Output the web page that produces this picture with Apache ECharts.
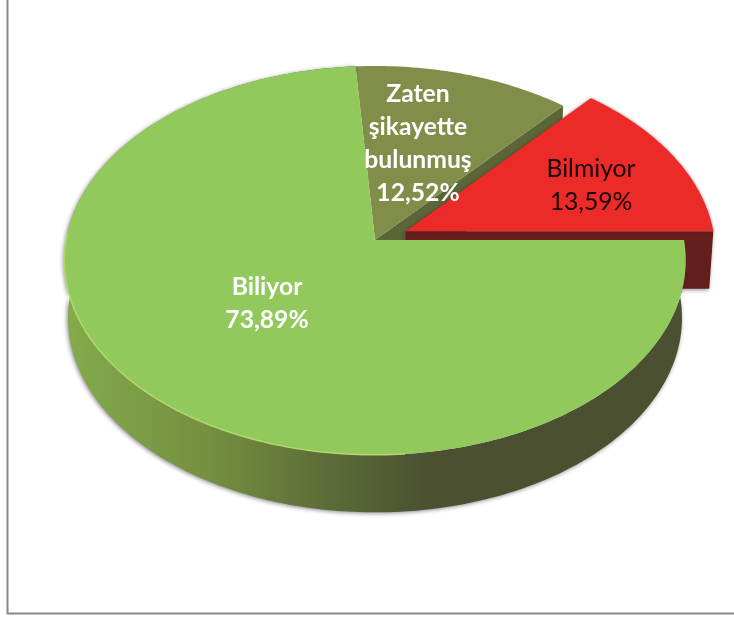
<!DOCTYPE html>
<html>
<head>
<meta charset="utf-8">
<title>Pie</title>
<style>
  html, body { margin: 0; padding: 0; background: #fff; }
  #chart { width: 734px; height: 618px; }
</style>
</head>
<body>
<div id="chart"></div>
<script src="https://cdn.jsdelivr.net/npm/echarts@6/dist/echarts.min.js"></script>
<script>
const categories = ['Biliyor', 'Zaten\nşikayette\nbulunmuş', 'Bilmiyor']
const shares = [73.89, 12.52, 13.59]
const shareLabels = ['73,89%', '12,52%', '13,59%']

// look of each slice, same order as categories
const topColors = ['#92c95c', '#808e4a', '#ec2a27']
const textColors = ['#ffffff', '#ffffff', '#1a0505']
const textWeights = ['bold', 'bold', 'normal']
const labelPos = [[267, 304], [418, 144], [591, 186]]
const explode = [0, 0, 0.11]
const paintOrder = [1, 2, 0]

// tilted disc: projective map from the unit circle, k gives the perspective
const apexX = 375
const apexY = 240
const radiusX = 309
const radiusY = 192.3
const k = -0.105
const depth = 57.5
const floorScale = 0.988
const firstAngle = 90 // clock degrees, 0 is 12 o'clock

const total = shares.reduce((a, b) => a + b, 0)
let running = firstAngle
const slices = shares.map((value) => {
  const start = running
  running += (value / total) * 360
  return { start, end: running }
})

function project(u, v, low) {
  const d = 1 + k * v
  const x = (radiusX * u) / d
  const y = (radiusY * v) / d
  return low
    ? [apexX + x * floorScale, apexY + y + depth]
    : [apexX + x, apexY + y]
}

function rimPoint(angle, slice, low) {
  const mid = (((slice.start + slice.end) / 2) * Math.PI) / 180
  const off = explode[slice.index] || 0
  const a = (angle * Math.PI) / 180
  return project(Math.sin(a) + Math.sin(mid) * off, -Math.cos(a) - Math.cos(mid) * off, low)
}

function centerPoint(slice, low) {
  const mid = (((slice.start + slice.end) / 2) * Math.PI) / 180
  const off = explode[slice.index] || 0
  return project(Math.sin(mid) * off, -Math.cos(mid) * off, low)
}

function rimPath(from, to, slice, low) {
  const pts = []
  const steps = Math.max(2, Math.ceil(Math.abs(to - from)))
  for (let i = 0; i <= steps; i++) {
    pts.push(rimPoint(from + ((to - from) * i) / steps, slice, low))
  }
  return pts
}

slices.forEach((s, i) => { s.index = i })

const edgeShadow = { shadowBlur: 4, shadowColor: 'rgba(40,40,50,0.55)', shadowOffsetX: -1, shadowOffsetY: 1 }

function sliceShapes(i) {
  const s = slices[i]
  const shapes = []
  const apex = centerPoint(s, false)
  const rim = rimPath(s.start, s.end, s, false)

  if (i === 0) {
    // outer wall of the big slice
    const wall = rim.concat(rimPath(s.end, s.start, s, true))
    shapes.push({
      type: 'polygon',
      shape: { points: wall },
      style: {
        fill: {
          type: 'linear', x: 64, y: 0, x2: 430, y2: 0, global: true,
          colorStops: [
            { offset: 0, color: '#84ab4c' },
            { offset: 0.4, color: '#748f40' },
            { offset: 0.72, color: '#5d6c37' },
            { offset: 1, color: '#4a5030' },
          ],
        },
        ...edgeShadow,
      },
    })
  }
  if (i === 1) {
    // cut face seen along the edge next to the red slice
    const a = rimPoint(s.end, s, false)
    const b = rimPoint(s.end, s, true)
    shapes.push({
      type: 'polygon',
      shape: { points: [apex, a, b, centerPoint(s, true)] },
      style: { fill: '#5a6637' },
    })
  }
  if (i === 2) {
    const a = rimPoint(s.end, s, false)
    const b = rimPoint(s.end, s, true)
    shapes.push({
      type: 'polygon',
      shape: { points: [apex, a, b, centerPoint(s, true)] },
      style: { fill: '#641e1c', ...edgeShadow },
    })
  }

  shapes.push({
    type: 'polygon',
    shape: { points: [apex].concat(rim) },
    style: i === 2
      ? { fill: topColors[i], shadowBlur: 3, shadowColor: 'rgba(90,20,20,0.6)' }
      : { fill: topColors[i] },
  })

  if (i === 0) {
    // light bevel along the front left of the rim
    shapes.push({
      type: 'polyline',
      shape: { points: rimPath(175, 272, s, false) },
      style: { fill: null, stroke: '#b7da6e', lineWidth: 1.5, opacity: 0.9 },
    })
  }
  return shapes
}

const chart = echarts.init(document.getElementById('chart'))
chart.setOption({
  animation: false,
  backgroundColor: '#ffffff',
  graphic: [
    {
      type: 'polyline',
      shape: { points: [[7.5, 0], [7.5, 613.5], [734, 613.5]] },
      style: { fill: null, stroke: '#87878c', lineWidth: 2 },
    },
  ],
  series: [
    {
      type: 'custom',
      coordinateSystem: 'none',
      data: paintOrder.map((i) => [shares[i]]),
      renderItem(params) {
        return { type: 'group', children: sliceShapes(paintOrder[params.dataIndex]) }
      },
    },
    {
      type: 'custom',
      coordinateSystem: 'none',
      z: 5,
      data: categories.map((name, i) => [shares[i], name]),
      renderItem(params) {
        const i = params.dataIndex
        return {
          type: 'text',
          style: {
            x: labelPos[i][0],
            y: labelPos[i][1],
            text: categories[i] + '\n' + shareLabels[i],
            fill: textColors[i],
            font: textWeights[i] + ' 24.7px Lato, "Open Sans", sans-serif',
            lineHeight: 33,
            align: 'center',
            verticalAlign: 'middle',
          },
        }
      },
    },
  ],
})
</script>
</body>
</html>
